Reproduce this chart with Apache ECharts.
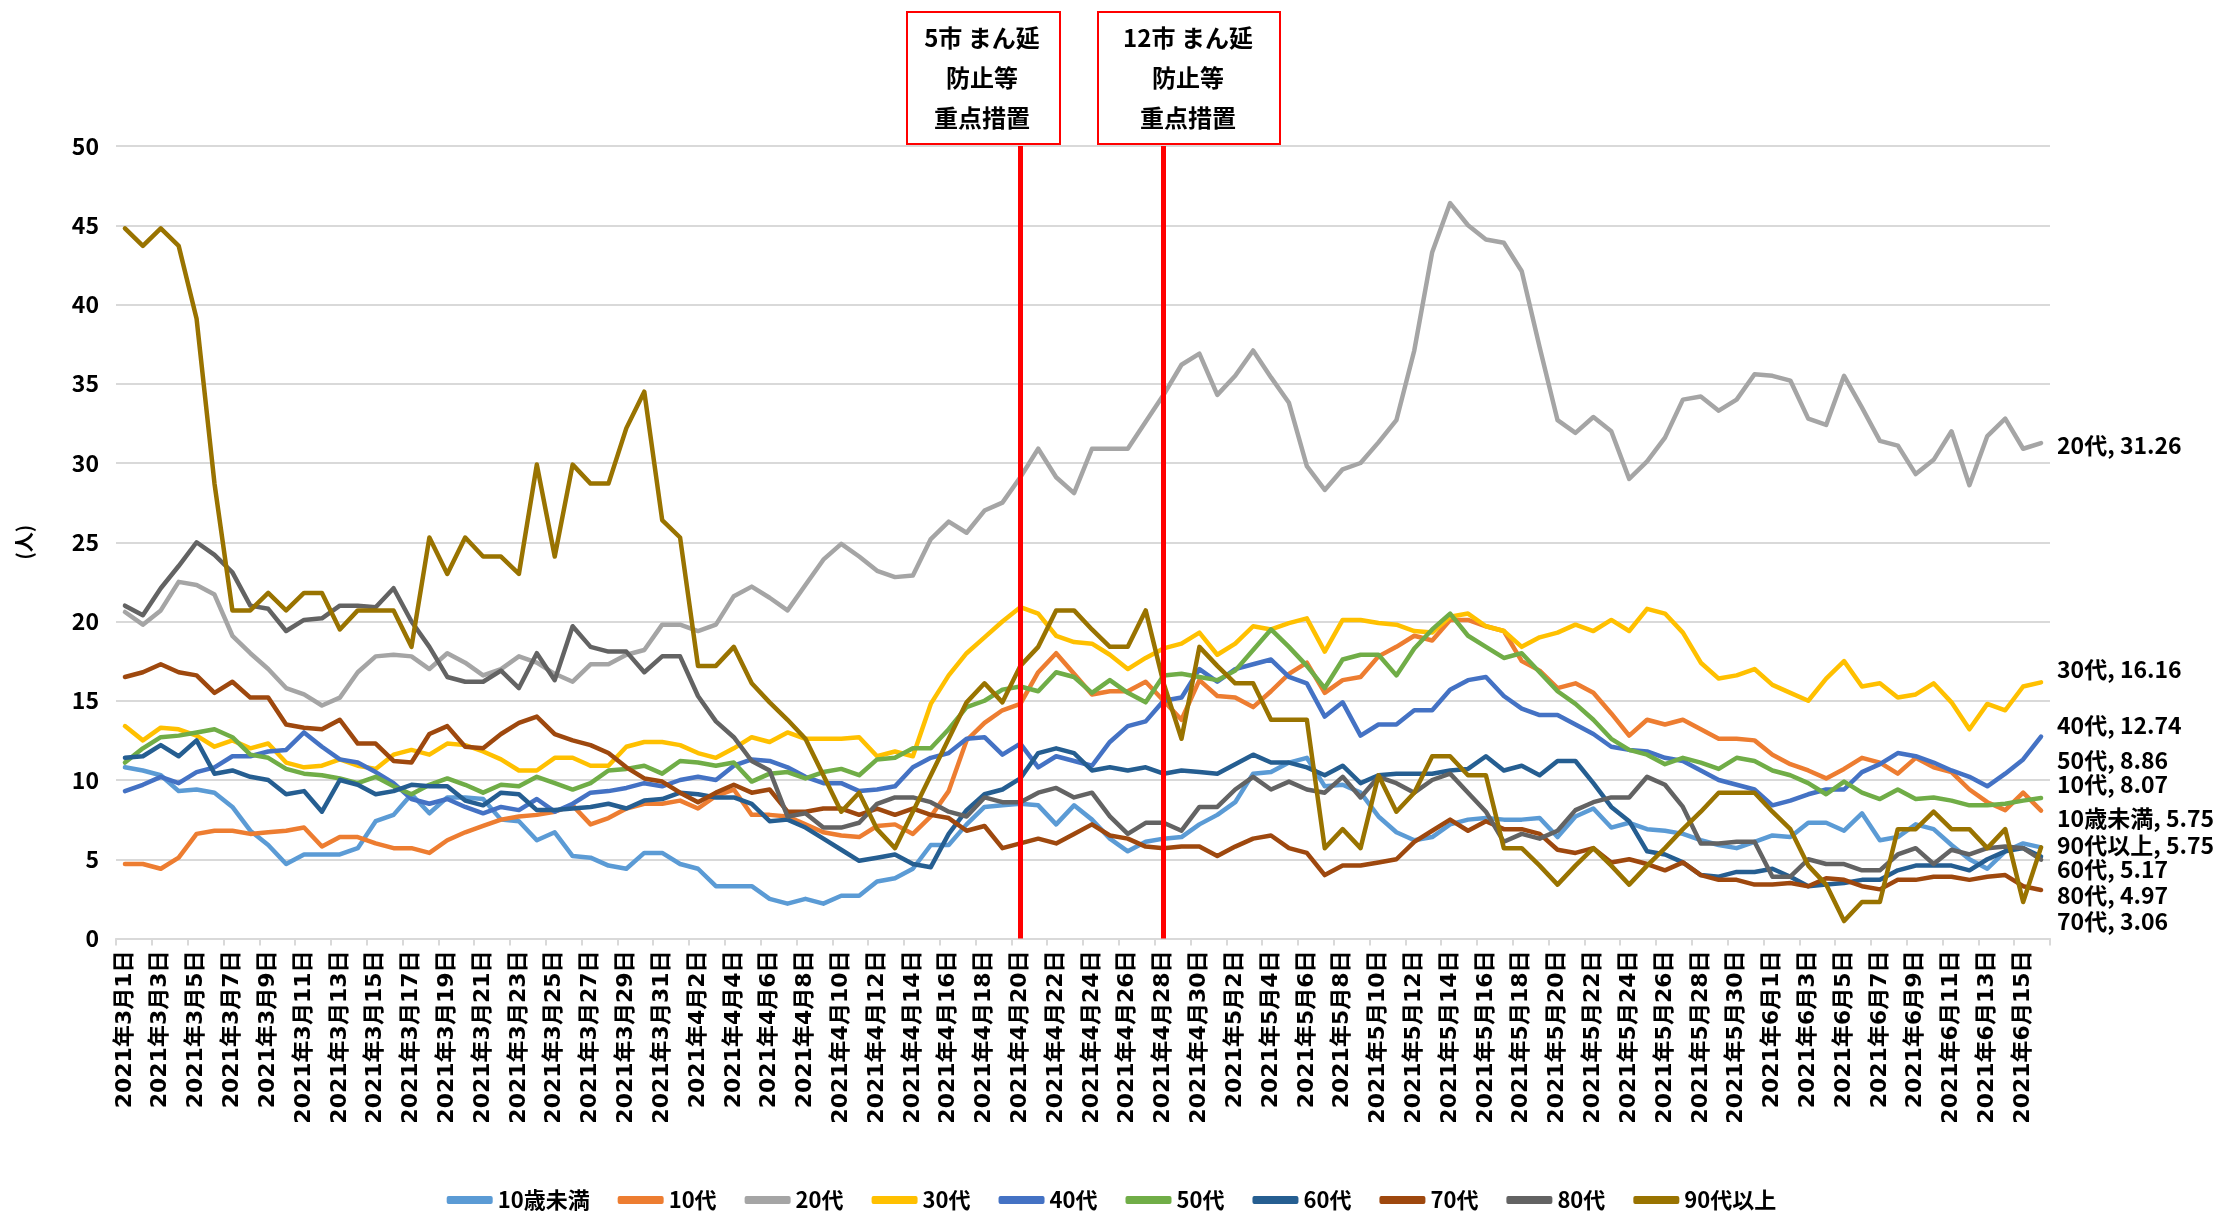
<!DOCTYPE html>
<html>
<head>
<meta charset="utf-8">
<title>年代別 新規陽性者数の推移</title>
<script src="https://cdn.jsdelivr.net/npm/echarts@6/dist/echarts.min.js"></script>
<style>
  html, body { margin: 0; padding: 0; background: #fff; }
  #chart { width: 2223px; height: 1224px; }
</style>
</head>
<body>
<div id="chart"></div>
<script>
// 日付（2021年3月1日〜6月16日、日別）
const months = [[3, 31], [4, 30], [5, 31], [6, 16]];
const dates = [];
months.forEach(([m, n]) => {
  for (let d = 1; d <= n; d++) dates.push('2021年' + m + '月' + d + '日');
});

// 重点措置の開始日
const measureDates = ['2021年4月20日', '2021年4月28日'];

const under10 = [10.8,10.6,10.3,9.3,9.4,9.2,8.3,6.8,5.9,4.7,
  5.3,5.3,5.3,5.7,7.4,7.8,9.1,7.9,8.9,8.9,
  8.8,7.5,7.4,6.2,6.7,5.2,5.1,4.6,4.4,5.4,
  5.4,4.7,4.4,3.3,3.3,3.3,2.5,2.2,2.5,2.2,
  2.7,2.7,3.6,3.8,4.4,5.9,5.9,7.2,8.3,8.4,
  8.5,8.4,7.2,8.4,7.5,6.3,5.5,6.1,6.3,6.4,
  7.2,7.8,8.6,10.4,10.5,11.1,11.4,9.6,9.7,9.2,
  7.7,6.7,6.2,6.4,7.2,7.5,7.6,7.5,7.5,7.6,
  6.4,7.7,8.2,7.0,7.3,6.9,6.8,6.6,6.2,5.9,
  5.7,6.1,6.5,6.4,7.3,7.3,6.8,7.9,6.2,6.4,
  7.2,6.9,5.9,5.0,4.4,5.5,6.0,5.75];

const teens = [4.7,4.7,4.4,5.1,6.6,6.8,6.8,6.6,6.7,6.8,
  7.0,5.8,6.4,6.4,6.0,5.7,5.7,5.4,6.2,6.7,
  7.1,7.5,7.7,7.8,8.0,8.4,7.2,7.6,8.2,8.5,
  8.5,8.7,8.2,9.0,9.4,7.8,7.8,7.7,7.2,6.7,
  6.5,6.4,7.1,7.2,6.6,7.7,9.3,12.5,13.6,14.4,
  14.8,16.8,18.0,16.7,15.4,15.6,15.6,16.2,15.0,13.8,
  16.3,15.3,15.2,14.6,15.6,16.7,17.4,15.5,16.3,16.5,
  17.8,18.4,19.1,18.8,20.1,20.1,19.7,19.4,17.5,16.9,
  15.8,16.1,15.5,14.2,12.8,13.8,13.5,13.8,13.2,12.6,
  12.6,12.5,11.6,11.0,10.6,10.1,10.7,11.4,11.1,10.4,
  11.4,10.8,10.5,9.4,8.6,8.1,9.2,8.07];

const twenties = [20.6,19.8,20.7,22.5,22.3,21.7,19.1,18.0,17.0,15.8,
  15.4,14.7,15.2,16.8,17.8,17.9,17.8,17.0,18.0,17.4,
  16.6,17.0,17.8,17.4,16.7,16.2,17.3,17.3,17.9,18.2,
  19.8,19.8,19.4,19.8,21.6,22.2,21.5,20.7,22.3,23.9,
  24.9,24.1,23.2,22.8,22.9,25.2,26.3,25.6,27.0,27.5,
  29.1,30.9,29.1,28.1,30.9,30.9,30.9,32.6,34.3,36.2,
  36.9,34.3,35.5,37.1,35.4,33.8,29.8,28.3,29.6,30.0,
  31.3,32.7,37.1,43.3,46.4,45.0,44.1,43.9,42.1,37.3,
  32.7,31.9,32.9,32.0,29.0,30.1,31.6,34.0,34.2,33.3,
  34.0,35.6,35.5,35.2,32.8,32.4,35.5,33.5,31.4,31.1,
  29.3,30.2,32.0,28.6,31.7,32.8,30.9,31.26];

const thirties = [13.4,12.5,13.3,13.2,12.8,12.1,12.5,12.0,12.3,11.1,
  10.8,10.9,11.3,10.9,10.7,11.6,11.9,11.6,12.3,12.2,
  11.8,11.3,10.6,10.6,11.4,11.4,10.9,10.9,12.1,12.4,
  12.4,12.2,11.7,11.4,12.0,12.7,12.4,13.0,12.6,12.6,
  12.6,12.7,11.5,11.8,11.5,14.8,16.6,18.0,19.0,20.0,
  20.9,20.5,19.1,18.7,18.6,17.9,17.0,17.7,18.3,18.6,
  19.3,17.9,18.6,19.7,19.5,19.9,20.2,18.1,20.1,20.1,
  19.9,19.8,19.4,19.3,20.3,20.5,19.7,19.4,18.4,19.0,
  19.3,19.8,19.4,20.1,19.4,20.8,20.5,19.3,17.4,16.4,
  16.6,17.0,16.0,15.5,15.0,16.4,17.5,15.9,16.1,15.2,
  15.4,16.1,14.9,13.2,14.8,14.4,15.9,16.16];

const forties = [9.3,9.7,10.2,9.8,10.5,10.8,11.5,11.5,11.8,11.9,
  13.0,12.1,11.3,11.1,10.5,9.8,8.8,8.5,8.8,8.3,
  7.9,8.3,8.1,8.8,8.0,8.5,9.2,9.3,9.5,9.8,
  9.6,10.0,10.2,10.0,10.9,11.3,11.2,10.8,10.2,9.8,
  9.8,9.3,9.4,9.6,10.8,11.4,11.7,12.6,12.7,11.6,
  12.3,10.8,11.5,11.2,10.9,12.4,13.4,13.7,15.0,15.2,
  17.0,16.2,17.0,17.3,17.6,16.5,16.1,14.0,14.9,12.8,
  13.5,13.5,14.4,14.4,15.7,16.3,16.5,15.3,14.5,14.1,
  14.1,13.5,12.9,12.1,11.9,11.8,11.4,11.2,10.6,10.0,
  9.7,9.4,8.4,8.7,9.1,9.4,9.4,10.5,11.0,11.7,
  11.5,11.1,10.6,10.2,9.6,10.4,11.3,12.74];

const fifties = [11.1,12.0,12.7,12.8,13.0,13.2,12.7,11.6,11.4,10.7,
  10.4,10.3,10.1,9.8,10.2,9.6,9.1,9.7,10.1,9.7,
  9.2,9.7,9.6,10.2,9.8,9.4,9.8,10.6,10.7,10.9,
  10.4,11.2,11.1,10.9,11.1,9.9,10.4,10.5,10.1,10.5,
  10.7,10.3,11.3,11.4,12.0,12.0,13.2,14.6,15.0,15.7,
  15.9,15.6,16.8,16.5,15.5,16.3,15.5,14.9,16.6,16.7,
  16.5,16.3,16.9,18.2,19.5,18.4,17.2,15.8,17.6,17.9,
  17.9,16.6,18.3,19.5,20.5,19.1,18.4,17.7,18.0,16.8,
  15.6,14.8,13.8,12.6,11.9,11.6,11.0,11.4,11.1,10.7,
  11.4,11.2,10.6,10.3,9.8,9.1,9.9,9.2,8.8,9.4,
  8.8,8.9,8.7,8.4,8.4,8.5,8.7,8.86];

const sixties = [11.4,11.5,12.2,11.5,12.5,10.4,10.6,10.2,10.0,9.1,
  9.3,8.0,10.0,9.7,9.1,9.3,9.7,9.6,9.6,8.7,
  8.4,9.2,9.1,8.1,8.1,8.2,8.3,8.5,8.2,8.7,
  8.8,9.2,9.1,8.9,8.9,8.5,7.4,7.5,7.0,6.3,
  5.6,4.9,5.1,5.3,4.7,4.5,6.6,8.1,9.1,9.4,
  10.1,11.7,12.0,11.7,10.6,10.8,10.6,10.8,10.4,10.6,
  10.5,10.4,11.0,11.6,11.1,11.1,10.8,10.3,10.9,9.8,
  10.3,10.4,10.4,10.4,10.6,10.7,11.5,10.6,10.9,10.3,
  11.2,11.2,9.8,8.3,7.4,5.5,5.3,4.8,4.0,3.9,
  4.2,4.2,4.4,3.9,3.3,3.4,3.5,3.7,3.7,4.3,
  4.6,4.6,4.6,4.3,5.0,5.5,5.7,5.17];

const seventies = [16.5,16.8,17.3,16.8,16.6,15.5,16.2,15.2,15.2,13.5,
  13.3,13.2,13.8,12.3,12.3,11.2,11.1,12.9,13.4,12.1,
  12.0,12.9,13.6,14.0,12.9,12.5,12.2,11.7,10.8,10.1,
  9.9,9.2,8.6,9.2,9.7,9.2,9.4,8.0,8.0,8.2,
  8.2,7.8,8.2,7.8,8.2,7.8,7.6,6.8,7.1,5.7,
  6.0,6.3,6.0,6.6,7.2,6.5,6.3,5.8,5.7,5.8,
  5.8,5.2,5.8,6.3,6.5,5.7,5.4,4.0,4.6,4.6,
  4.8,5.0,6.1,6.8,7.5,6.8,7.4,6.9,6.9,6.6,
  5.6,5.4,5.7,4.8,5.0,4.7,4.3,4.8,4.0,3.7,
  3.7,3.4,3.4,3.5,3.3,3.8,3.7,3.3,3.1,3.7,
  3.7,3.9,3.9,3.7,3.9,4.0,3.3,3.06];

const eighties = [21.0,20.4,22.1,23.5,25.0,24.2,23.1,21.0,20.8,19.4,
  20.1,20.2,21.0,21.0,20.9,22.1,20.0,18.4,16.5,16.2,
  16.2,16.9,15.8,18.0,16.3,19.7,18.4,18.1,18.1,16.8,
  17.8,17.8,15.3,13.7,12.7,11.2,10.6,7.7,7.9,7.0,
  7.0,7.3,8.5,8.9,8.9,8.6,8.0,7.7,8.9,8.6,
  8.6,9.2,9.5,8.9,9.2,7.7,6.6,7.3,7.3,6.8,
  8.3,8.3,9.4,10.2,9.4,9.9,9.4,9.2,10.2,8.9,
  10.2,9.8,9.2,10.0,10.4,9.2,8.0,6.1,6.6,6.3,
  6.8,8.1,8.6,8.9,8.9,10.2,9.7,8.3,6.0,6.0,
  6.1,6.1,3.9,3.9,5.0,4.7,4.7,4.3,4.3,5.3,
  5.7,4.7,5.6,5.3,5.7,5.8,5.7,4.97];

const over90 = [44.8,43.7,44.8,43.7,39.1,28.7,20.7,20.7,21.8,20.7,
  21.8,21.8,19.5,20.7,20.7,20.7,18.4,25.3,23.0,25.3,
  24.1,24.1,23.0,29.9,24.1,29.9,28.7,28.7,32.2,34.5,
  26.4,25.3,17.2,17.2,18.4,16.1,14.9,13.8,12.6,10.3,
  8.0,9.2,6.9,5.7,8.0,10.3,12.6,14.9,16.1,14.9,
  17.2,18.4,20.7,20.7,19.5,18.4,18.4,20.7,16.1,12.6,
  18.4,17.2,16.1,16.1,13.8,13.8,13.8,5.7,6.9,5.7,
  10.3,8.0,9.2,11.5,11.5,10.3,10.3,5.7,5.7,4.6,
  3.4,4.6,5.7,4.6,3.4,4.6,5.7,6.9,8.0,9.2,
  9.2,9.2,8.0,6.9,4.6,3.4,1.1,2.3,2.3,6.9,
  6.9,8.0,6.9,6.9,5.7,6.9,2.3,5.75];

const names = ['10歳未満', '10代', '20代', '30代', '40代', '50代', '60代', '70代', '80代', '90代以上'];
const values = [under10, teens, twenties, thirties, forties, fifties, sixties, seventies, eighties, over90];
const colors = ['#5B9BD5', '#ED7D31', '#A5A5A5', '#FFC000', '#4472C4', '#70AD47', '#255E91', '#9E480E', '#636363', '#997300'];
// 右端ラベルの上下ずらし（重なり回避）
const labelShift = [-29, -26, 2, -13, -11, -38, 13, 31, 36, -2];

const jp = 'Noto Sans CJK JP';

const chart = echarts.init(document.getElementById('chart'));

const series = names.map((name, i) => {
  const s = {
    name: name,
    type: 'line',
    data: values[i],
    symbol: 'none',
    animation: false,
    lineStyle: { width: 4.5, color: colors[i], cap: 'round', join: 'round' },
    itemStyle: { color: colors[i] },
    emphasis: { disabled: true },
    endLabel: {
      show: true,
      distance: 16,
      color: '#000',
      fontSize: 23,
      fontWeight: 'bold',
      fontFamily: jp,
      formatter: p => p.seriesName + ', ' + Number(p.value).toFixed(2)
    },
    labelLayout: { dy: labelShift[i] }
  };
  if (i === names.length - 1) {
    s.markLine = {
      silent: true,
      symbol: 'none',
      animation: false,
      label: { show: false },
      lineStyle: { color: '#FF0000', width: 5, type: 'solid' },
      data: measureDates.map(d => ({ xAxis: d }))
    };
  }
  return s;
});

const option = {
  backgroundColor: '#fff',
  animation: false,
  color: colors,
  grid: { left: 116, right: 173, top: 146, bottom: 285.5 },
  legend: {
    data: names,
    top: 1184,
    left: 'center',
    icon: 'roundRect',
    itemWidth: 46,
    itemHeight: 8,
    itemGap: 28,
    textStyle: { fontSize: 22, fontWeight: 'bold', color: '#000', fontFamily: jp }
  },
  xAxis: {
    type: 'category',
    data: dates,
    boundaryGap: true,
    axisLine: { lineStyle: { color: '#D9D9D9', width: 2 } },
    axisTick: { show: true, interval: 1, length: 7, lineStyle: { color: '#D9D9D9', width: 2 } },
    axisLabel: {
      interval: 1,
      rotate: 90,
      margin: 12,
      color: '#000',
      fontSize: 22,
      fontWeight: 'bold',
      fontFamily: 'DejaVu Sans, ' + jp
    }
  },
  yAxis: {
    type: 'value',
    min: 0,
    max: 50,
    interval: 5,
    name: '(人)',
    nameLocation: 'middle',
    nameRotate: 90,
    nameGap: 82,
    nameTextStyle: { fontSize: 20, fontWeight: 'bold', color: '#000', fontFamily: jp },
    axisLine: { show: false },
    axisTick: { show: false },
    axisLabel: { margin: 17, color: '#000', fontSize: 23, fontWeight: 'bold', fontFamily: jp },
    splitLine: { lineStyle: { color: '#D9D9D9', width: 2 } }
  },
  graphic: [
    { type: 'rect', left: 906, top: 11, shape: { width: 153, height: 132 },
      style: { fill: '#fff', stroke: '#FF0000', lineWidth: 2 } },
    { type: 'text', x: 982, y: 78,
      style: { text: '5市 まん延\n防止等\n重点措置', align: 'center', verticalAlign: 'middle',
        lineHeight: 40, fontSize: 24, fontWeight: 'bold', fontFamily: jp, fill: '#000' } },
    { type: 'rect', left: 1097, top: 11, shape: { width: 182, height: 132 },
      style: { fill: '#fff', stroke: '#FF0000', lineWidth: 2 } },
    { type: 'text', x: 1188, y: 78,
      style: { text: '12市 まん延\n防止等\n重点措置', align: 'center', verticalAlign: 'middle',
        lineHeight: 40, fontSize: 24, fontWeight: 'bold', fontFamily: jp, fill: '#000' } }
  ],
  series: series
};

chart.setOption(option);
</script>
</body>
</html>
